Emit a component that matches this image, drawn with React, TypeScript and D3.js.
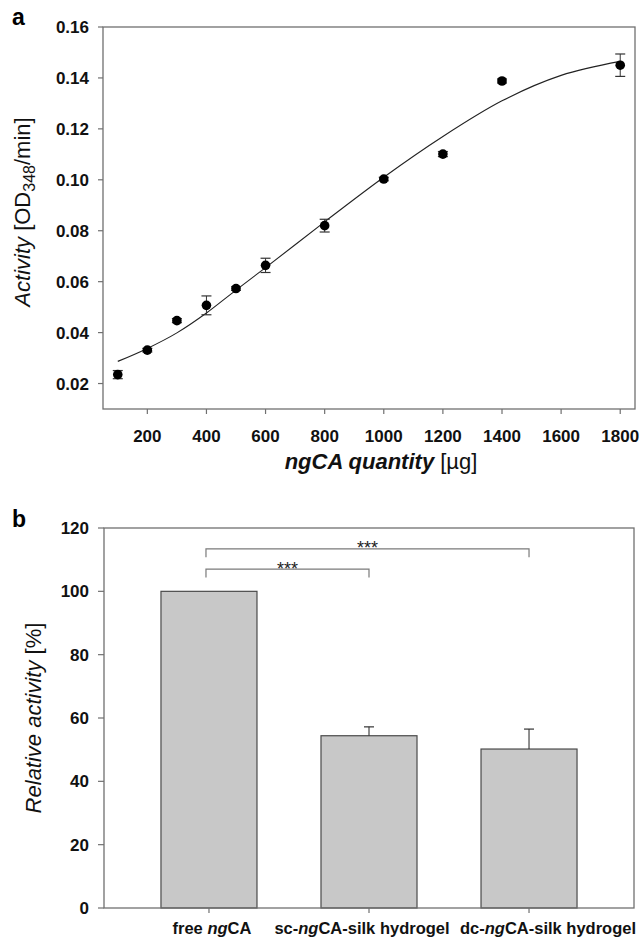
import React, { useEffect } from "react";
import * as d3 from "d3";

// ---------- Panel a data ----------
const doseX = [100, 200, 300, 400, 500, 600, 800, 1000, 1200, 1400, 1800];
const activity = [0.0235, 0.0331, 0.0447, 0.0507, 0.0573, 0.0664, 0.082, 0.1003, 0.1101, 0.1388, 0.145];
const activityErr = [0.0016, 0.0007, 0.0008, 0.0037, 0.0007, 0.0028, 0.0025, 0.0007, 0.001, 0.0008, 0.0044];
const fitX = [100, 200, 300, 400, 500, 600, 800, 1000, 1200, 1400, 1600, 1800];
const fitY = [0.0287, 0.0338, 0.0399, 0.0477, 0.0567, 0.0655, 0.0835, 0.101, 0.117, 0.131, 0.141, 0.1465];
const xTicksA = [200, 400, 600, 800, 1000, 1200, 1400, 1600, 1800];
const yTicksA = [0.02, 0.04, 0.06, 0.08, 0.1, 0.12, 0.14, 0.16];

// ---------- Panel b data ----------
const groups = ["free ngCA", "sc-ngCA-silk hydrogel", "dc-ngCA-silk hydrogel"];
const groupPrefix = ["free ", "sc-", "dc-"];
const groupItalic = ["ng", "ng", "ng"];
const groupSuffix = ["CA", "CA-silk hydrogel", "CA-silk hydrogel"];
const relActivity = [100, 54.4, 50.2];
const relErr = [0, 2.8, 6.3];
const yTicksB = [0, 20, 40, 60, 80, 100, 120];
const bracketFrom = [0, 0];
const bracketTo = [2, 1];
const bracketLevel = [113.4, 107.0];
const bracketLeg = [2.6, 2.6];
const bracketLabel = ["***", "***"];

const FONT = "'Liberation Sans', Arial, Helvetica, sans-serif";
const AXIS = "#707070";

export default function App() {
  useEffect(() => {
    document.body.style.margin = "0";
  }, []);

  // Panel a layout
  const aL = 103, aR = 635, aT = 27, aB = 409;
  const xA = d3.scaleLinear().domain([50, 1850]).range([aL, aR]);
  const yA = d3.scaleLinear().domain([0.01, 0.16]).range([aB, aT]);
  const fitLine = d3
    .line<number>()
    .x((_, i) => xA(fitX[i]))
    .y((d) => yA(d))
    .curve(d3.curveMonotoneX);
  const fmtA = d3.format(".2f");

  // Panel b layout
  const bL = 104, bR = 634, bT = 528, bB = 908;
  const xB = d3.scaleBand<string>().domain(groups).range([bL, bR]).paddingInner(0.4).paddingOuter(0.356);
  const yB = d3.scaleLinear().domain([0, 120]).range([bB, bT]);
  const cx = (i: number) => (xB(groups[i]) as number) + xB.bandwidth() / 2;
  const labelDx = [3, -7, 19];

  const tickFont = { fontFamily: FONT, fontWeight: "bold" as const, fontSize: 17, fill: "#111" };
  const titleFont = { fontFamily: FONT, fontSize: 22, fill: "#111" };

  return (
    <svg width={641} height={939} style={{ position: "absolute", left: 0, top: 0, background: "#fff" }}>
      {/* ===== Panel a ===== */}
      <text x={12} y={25} style={{ fontFamily: FONT, fontWeight: "bold", fontSize: 23 }}>a</text>
      <rect x={aL} y={aT} width={aR - aL} height={aB - aT} fill="none" stroke={AXIS} strokeWidth={1.3} />
      {yTicksA.map((t) => (
        <g key={"ya" + t}>
          <line x1={aL - 5} x2={aL} y1={yA(t)} y2={yA(t)} stroke={AXIS} strokeWidth={1.2} />
          <text x={aL - 14} y={yA(t)} dy="0.36em" textAnchor="end" style={tickFont}>{fmtA(t)}</text>
        </g>
      ))}
      {xTicksA.map((t) => (
        <g key={"xa" + t}>
          <line x1={xA(t)} x2={xA(t)} y1={aB} y2={aB + 5} stroke={AXIS} strokeWidth={1.2} />
          <text x={xA(t)} y={441.5} textAnchor="middle" style={tickFont}>{t}</text>
        </g>
      ))}
      <path d={fitLine(fitY) || ""} fill="none" stroke="#222" strokeWidth={1.1} />
      {doseX.map((x, i) => {
        const px = xA(x);
        const y1 = yA(activity[i] + activityErr[i]);
        const y2 = yA(activity[i] - activityErr[i]);
        return (
          <g key={"pt" + x}>
            <line x1={px} x2={px} y1={y1} y2={y2} stroke="#333" strokeWidth={1} />
            <line x1={px - 5} x2={px + 5} y1={y1} y2={y1} stroke="#333" strokeWidth={1.2} />
            <line x1={px - 5} x2={px + 5} y1={y2} y2={y2} stroke="#333" strokeWidth={1.2} />
            <circle cx={px} cy={yA(activity[i])} r={4.8} fill="#000" />
          </g>
        );
      })}
      <text x={(aL + aR) / 2 + 12} y={469} textAnchor="middle" style={titleFont}>
        <tspan fontStyle="italic" fontWeight="bold">ngCA quantity</tspan>
        <tspan> [µg]</tspan>
      </text>
      <text transform={`translate(30,${(aT + aB) / 2 - 6}) rotate(-90)`} textAnchor="middle" style={titleFont}>
        <tspan fontStyle="italic">Activity</tspan>
        <tspan> [OD</tspan>
        <tspan fontSize={16} dy={5}>348</tspan>
        <tspan dy={-5}>/min]</tspan>
      </text>

      {/* ===== Panel b ===== */}
      <text x={12} y={527} style={{ fontFamily: FONT, fontWeight: "bold", fontSize: 23 }}>b</text>
      {relActivity.map((v, i) => (
        <rect
          key={"bar" + i}
          x={xB(groups[i]) as number}
          y={yB(v)}
          width={xB.bandwidth()}
          height={bB - yB(v)}
          fill="#c8c8c8"
          stroke="#4a4a4a"
          strokeWidth={1.2}
        />
      ))}
      {relActivity.map((v, i) =>
        relErr[i] > 0 ? (
          <g key={"err" + i}>
            <line x1={cx(i)} x2={cx(i)} y1={yB(v)} y2={yB(v + relErr[i])} stroke="#333" strokeWidth={1.1} />
            <line x1={cx(i) - 5} x2={cx(i) + 5} y1={yB(v + relErr[i])} y2={yB(v + relErr[i])} stroke="#333" strokeWidth={1.2} />
          </g>
        ) : null
      )}
      <rect x={bL} y={bT} width={bR - bL} height={bB - bT} fill="none" stroke={AXIS} strokeWidth={1.3} />
      {yTicksB.map((t) => (
        <g key={"yb" + t}>
          <line x1={bL - 6} x2={bL} y1={yB(t)} y2={yB(t)} stroke={AXIS} strokeWidth={1.2} />
          <text x={bL - 15} y={yB(t)} dy="0.36em" textAnchor="end" style={tickFont}>{t}</text>
        </g>
      ))}
      {groups.map((g, i) => (
        <g key={"xb" + i}>
          <line x1={cx(i)} x2={cx(i)} y1={bB} y2={bB + 5} stroke={AXIS} strokeWidth={1.2} />
          <text x={cx(i) + labelDx[i]} y={934} textAnchor="middle" style={{ ...tickFont, fontSize: 16.5 }}>
            <tspan>{groupPrefix[i]}</tspan>
            <tspan fontStyle="italic">{groupItalic[i]}</tspan>
            <tspan>{groupSuffix[i]}</tspan>
          </text>
        </g>
      ))}
      {bracketLevel.map((lv, k) => {
        const x1 = cx(bracketFrom[k]) - 3;
        const x2 = cx(bracketTo[k]);
        const y = yB(lv);
        const yl = yB(lv - bracketLeg[k]);
        return (
          <g key={"br" + k}>
            <path d={`M${x1},${yl}V${y}H${x2}V${yl}`} fill="none" stroke="#7a7a7a" strokeWidth={1.2} />
            <text x={(x1 + x2) / 2} y={y + 5.5} textAnchor="middle" style={{ fontFamily: FONT, fontSize: 18, fill: "#222" }}>
              {bracketLabel[k]}
            </text>
          </g>
        );
      })}
      <text transform={`translate(41,${(bT + bB) / 2}) rotate(-90)`} textAnchor="middle" style={titleFont}>
        <tspan fontStyle="italic">Relative activity</tspan>
        <tspan> [%]</tspan>
      </text>
    </svg>
  );
}
